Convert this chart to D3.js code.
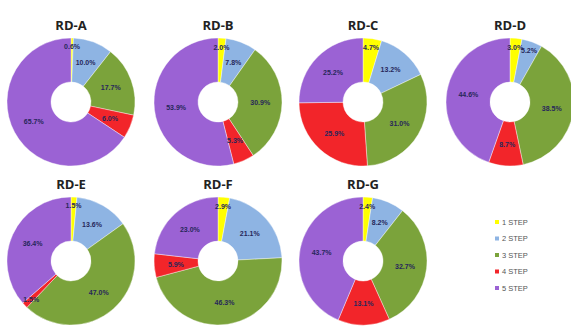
<!DOCTYPE html>
<html>
<head>
<meta charset="utf-8">
<script src="https://cdnjs.cloudflare.com/ajax/libs/d3/7.8.5/d3.min.js"></script>
<style>
body{margin:0;background:#fff;}
</style>
</head>
<body>
<script>
const svg_width = 571, svg_height = 327;

// chart data
var chartNames = ["RD-A","RD-B","RD-C","RD-D","RD-E","RD-F","RD-G"];
var stepNames = ["1 STEP","2 STEP","3 STEP","4 STEP","5 STEP"];
var rdA = [0.6, 10.0, 17.7, 6.0, 65.7];
var rdB = [2.0, 7.8, 30.9, 5.3, 53.9];
var rdC = [4.7, 13.2, 31.0, 25.9, 25.2];
var rdD = [3.0, 5.2, 38.5, 8.7, 44.6];
var rdE = [1.5, 13.6, 47.0, 1.5, 36.4];
var rdF = [2.9, 21.1, 46.3, 5.9, 23.0];
var rdG = [2.4, 8.2, 32.7, 13.1, 43.7];
var allValues = [rdA, rdB, rdC, rdD, rdE, rdF, rdG];

var stepColors = ["#FFFF00","#8EB4E3","#7BA33B","#F2252A","#9B62D4"];

var colX = [71, 218, 363, 510], rowY = [102, 261];
const r_out = 64, r_in = 20;

var svgContainer = d3.select("body")
.append("svg")
.attr("width",svg_width)
.attr("height",svg_height);

var color = d3.scaleOrdinal().domain(stepNames).range(stepColors);
var pie = d3.pie().sort(null).value(function(d){return d.v});
var arc = d3.arc().innerRadius(r_in).outerRadius(r_out);
var labelArc = d3.arc().innerRadius(r_out*0.66).outerRadius(r_out*0.66);
// thin slices get their label pushed out towards the rim
var rimArc = d3.arc().innerRadius(r_out*0.86).outerRadius(r_out*0.86);

for(var i in chartNames){
	drawDonut(chartNames[i], allValues[i], +i);
}

function drawDonut(name, values, idx){
	var cx = colX[idx < 4 ? idx : idx - 4],
	cy = rowY[idx < 4 ? 0 : 1];
	var data = values.map(function(v,j){return {step: stepNames[j], v: v}});

	var g = svgContainer.append("g").attr("transform","translate("+cx+","+cy+")");

	g.append("text")
	.attr("x",0)
	.attr("y",-r_out-8)
	.attr("text-anchor","middle")
	.style("font-family","'Open Sans', 'Liberation Sans', sans-serif")
	.style("font-weight","bold")
	.style("font-size","13px")
	.style("fill","#222")
	.text(name);

	var slices = g.selectAll("path")
	.data(pie(data))
	.enter()
	.append("path")
	.attr("d",arc)
	.attr("fill",function(d){return color(d.data.step)})
	.attr("stroke","#fff")
	.attr("stroke-width",0.4);

	g.selectAll("text.lbl")
	.data(pie(data))
	.enter()
	.append("text")
	.attr("class","lbl")
	.attr("transform",function(d){
		var a = (d.endAngle - d.startAngle) < 0.33 ? rimArc : labelArc;
		return "translate("+a.centroid(d)+")";
	})
	.attr("text-anchor","middle")
	.attr("dy","0.35em")
	.style("font-family","'Liberation Sans', sans-serif")
	.style("font-weight","bold")
	.style("font-size","7px")
	.style("fill","#27275a")
	.text(function(d){return d.data.v.toFixed(1)+"%"});
}

// legend
var legend = svgContainer.append("g").attr("transform","translate(497,222)");
var legendScale = d3.scalePoint().domain(stepNames).range([0,66]);
var items = legend.selectAll("g")
.data(stepNames)
.enter()
.append("g")
.attr("transform",function(d){return "translate(0,"+legendScale(d)+")"});
items.append("rect")
.attr("x",-2).attr("y",-2)
.attr("width",4).attr("height",4)
.attr("fill",function(d){return color(d)});
items.append("text")
.attr("x",5)
.attr("dy","0.35em")
.style("font-family","'Liberation Sans', sans-serif")
.style("font-size","7.5px")
.style("fill","#555")
.text(function(d){return d});
</script>
</body>
</html>
